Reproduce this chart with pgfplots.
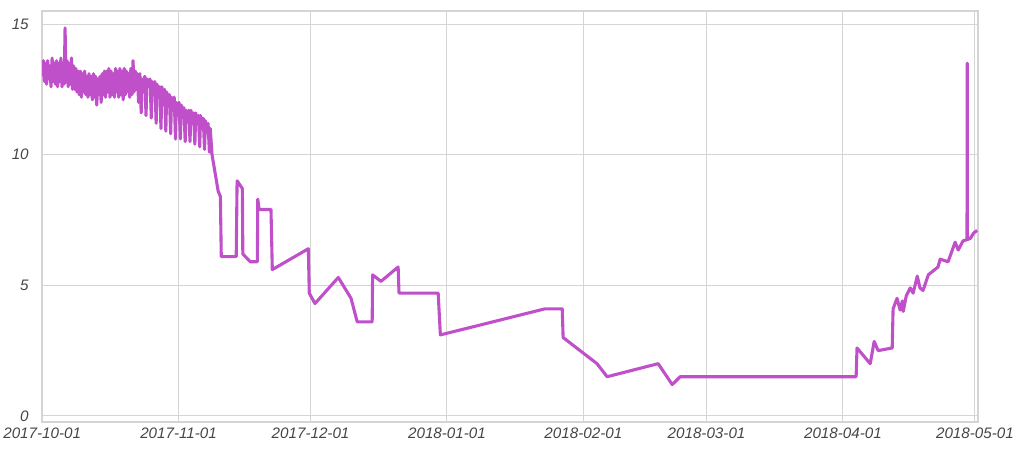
\documentclass[border=0pt]{standalone}
\usepackage{pgfplots}
\pgfplotsset{compat=1.18}
\usepackage{fontspec}
\setmainfont{Liberation Sans}
\definecolor{linec}{RGB}{192,80,202}
\definecolor{gridc}{RGB}{212,212,212}
\definecolor{tickc}{RGB}{70,70,70}
\begin{document}
\begin{tikzpicture}
\begin{axis}[
  scale only axis,
  width=936pt, height=411pt,
  xmin=0, xmax=212.7,
  ymin=-0.23, ymax=15.5,
  xtick={0,31,61,92,123,151,182,212},
  xticklabels={2017-10-01,2017-11-01,2017-12-01,2018-01-01,2018-02-01,2018-03-01,2018-04-01,2018-05-01},
  ytick={0,5,10,15},
  major tick length=0pt,
  grid=major,
  major grid style={gridc, line width=1pt},
  axis line style={gridc, line width=1.6pt},
  /pgf/number format/assume math mode=true,
  tick label style={font=\fontsize{15.2}{17}\selectfont\itshape, text=tickc},
  yticklabel style={xshift=-10pt},
  xticklabel style={yshift=-2pt},
]
\addplot[linec, line width=3.1pt, line join=round] coordinates {
(0,13.0)(0.25,13.6)(0.5,12.8)(0.75,13.5)(1.0,12.7)(1.25,13.6)(1.5,12.9)(1.75,13.4)(2.0,12.6)(2.25,13.7)(2.5,12.8)(2.75,13.5)(3.0,12.7)(3.25,13.6)(3.5,12.6)(3.75,13.5)(4.0,12.8)(4.25,13.7)(4.5,12.6)(4.75,13.4)(5.0,12.7)(5.2,14.85)(5.4,12.8)(5.65,13.6)(5.9,12.6)(6.15,13.5)(6.4,12.7)(6.65,13.7)(6.9,12.5)(7.15,13.4)(7.4,12.5)(7.65,13.3)(7.9,12.4)(8.15,13.2)(8.4,12.3)(8.65,13.2)(8.9,12.2)(9.15,13.1)(9.4,12.4)(9.65,13.2)(9.9,12.3)(10.15,13.0)(10.4,12.2)(10.65,13.1)(10.9,12.3)(11.15,13.0)(11.4,12.1)(11.65,13.1)(11.9,12.2)(12.15,13.0)(12.4,11.9)(12.65,12.9)(12.9,12.3)(13.15,13.0)(13.4,12.0)(13.65,13.1)(13.9,12.3)(14.15,13.2)(14.4,12.2)(14.65,13.2)(14.9,12.4)(15.15,13.3)(15.4,12.2)(15.65,13.2)(15.9,12.3)(16.15,13.1)(16.4,12.2)(16.65,13.3)(16.9,12.4)(17.15,13.2)(17.4,12.2)(17.65,13.3)(17.9,12.3)(18.15,13.2)(18.4,12.1)(18.65,13.3)(18.9,12.3)(19.15,13.2)(19.4,12.4)(19.65,13.1)(19.9,12.2)(20.15,13.3)(20.4,12.3)(20.65,13.6)(20.9,12.4)(21.15,13.2)(21.4,12.5)(21.65,13.1)(21.9,12.0)
(22.2,13.1)(22.5,11.6)(22.7,12.9)(23.0,12.5)(23.3,13.0)(23.6,11.5)(23.8,12.9)(24.2,12.6)(24.5,12.9)(24.8,11.4)(25.0,12.8)(25.3,12.5)(25.6,12.8)(25.9,11.2)(26.1,12.7)(26.4,12.3)(26.7,12.6)(27.0,11.0)(27.2,12.6)(27.5,12.2)(27.8,12.5)(28.1,10.9)(28.3,12.4)(28.6,12.1)(28.9,12.3)(29.2,10.8)(29.4,12.2)(29.7,11.9)(30.0,12.2)(30.3,10.6)(30.5,12.0)(30.8,11.8)(31.1,12.0)(31.4,10.6)(31.6,11.9)(31.9,11.6)(32.2,11.8)(32.5,10.5)(32.7,11.7)(33.0,11.4)(33.3,11.7)(33.6,10.5)(33.8,11.7)(34.1,11.3)(34.4,11.6)(34.7,10.4)(34.9,11.6)(35.2,11.2)(35.5,11.5)(35.8,10.3)(36.0,11.5)(36.3,11.0)(36.6,11.4)(36.9,10.2)(37.1,11.3)(37.4,10.9)(37.7,11.2)(38.0,10.1)(38.2,11.0)(38.6,10.0)
(40.0,8.6)(40.5,8.4)(40.7,6.1)(44.1,6.1)(44.3,9.0)(45.5,8.7)(45.6,6.2)(47.3,5.9)(48.9,5.9)(49.0,8.3)(49.3,7.9)(52.0,7.9)(52.3,5.6)(60.5,6.4)(60.7,4.7)(62.0,4.3)(67.3,5.3)(70.2,4.5)(71.6,3.6)(75.0,3.6)(75.1,5.4)(77.0,5.15)(80.9,5.7)(81.1,4.7)(90.0,4.7)(90.5,3.1)(114.3,4.1)(118.2,4.1)(118.4,3.0)(126.1,2.0)(128.4,1.5)(140.0,2.0)(143.2,1.2)(145.0,1.5)(185.0,1.5)(185.2,2.6)(188.2,2.0)(189.1,2.85)(190.0,2.5)(193.2,2.6)(193.4,4.1)(194.3,4.5)(195.0,4.05)(195.5,4.4)(195.7,4.0)(196.4,4.6)(197.3,4.9)(197.95,4.7)(198.9,5.35)(199.5,4.9)(200.2,4.8)(201.4,5.4)(203.6,5.7)(204.1,6.0)(205.9,5.9)(207.5,6.65)(208.2,6.35)(209.3,6.7)(210.2,6.75)(210.25,13.5)(210.3,6.75)(211.0,6.8)(211.7,7.0)(212.5,7.1)
};
\end{axis}
\path (current axis.south west) ++(-42pt,-28pt) coordinate (bl);
\path (current axis.north east) ++(42pt,11pt) coordinate (tr);
\path (bl) rectangle (tr);
\end{tikzpicture}
\end{document}
